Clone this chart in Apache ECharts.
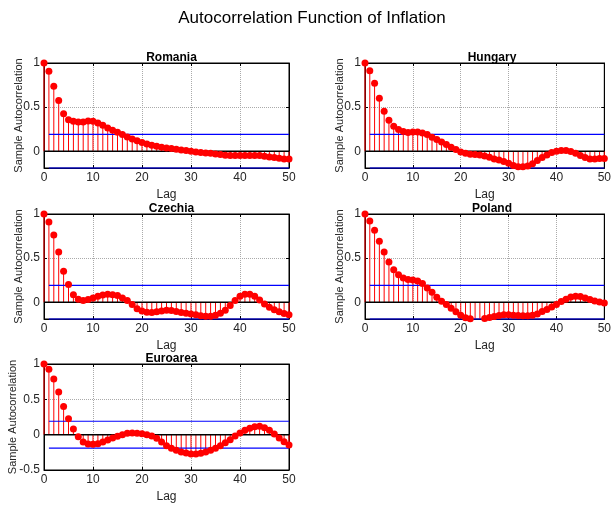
<!DOCTYPE html>
<html>
<head>
<meta charset="utf-8">
<script src="https://cdn.jsdelivr.net/npm/echarts@6/dist/echarts.min.js"></script>
<style>
html, body { margin: 0; padding: 0; background: #fff; }
#chart { width: 614px; height: 506px; }
</style>
</head>
<body>
<div id="chart"></div>
<script>
// lags 0..50
const lags = Array.from({ length: 51 }, (_, i) => i);

const romania = [1, 0.906, 0.736, 0.574, 0.426, 0.358, 0.34, 0.332, 0.332, 0.343, 0.34,
  0.32, 0.294, 0.264, 0.238, 0.215, 0.189, 0.162, 0.14, 0.12, 0.10,
  0.083, 0.068, 0.057, 0.045, 0.038, 0.03, 0.023, 0.015, 0.008, 0,
  -0.008, -0.015, -0.019, -0.023, -0.03, -0.038, -0.045, -0.049, -0.049, -0.049,
  -0.048, -0.048, -0.048, -0.049, -0.057, -0.064, -0.072, -0.08, -0.087, -0.087];

const hungary = [1, 0.913, 0.77, 0.60, 0.453, 0.351, 0.283, 0.245, 0.223, 0.211, 0.219,
  0.219, 0.208, 0.189, 0.158, 0.132, 0.106, 0.075, 0.045, 0.019, -0.008,
  -0.023, -0.034, -0.038, -0.042, -0.053, -0.068, -0.087, -0.10, -0.117, -0.136,
  -0.162, -0.177, -0.177, -0.166, -0.143, -0.106, -0.072, -0.042, -0.015, 0,
  0.008, 0.008, -0.004, -0.023, -0.049, -0.072, -0.087, -0.087, -0.083, -0.083];

const czechia = [1, 0.91, 0.763, 0.568, 0.35, 0.2, 0.086, 0.034, 0.019, 0.03, 0.049,
  0.068, 0.083, 0.09, 0.086, 0.075, 0.049, 0.019, -0.026, -0.075, -0.10,
  -0.113, -0.117, -0.109, -0.098, -0.09, -0.094, -0.105, -0.117, -0.124, -0.132,
  -0.143, -0.154, -0.158, -0.158, -0.147, -0.124, -0.09, -0.038, 0.019, 0.068,
  0.09, 0.09, 0.068, 0.026, -0.019, -0.056, -0.086, -0.109, -0.128, -0.143];

const poland = [1, 0.921, 0.816, 0.692, 0.568, 0.455, 0.368, 0.312, 0.274, 0.259, 0.252,
  0.241, 0.211, 0.162, 0.113, 0.056, 0.011, -0.026, -0.068, -0.109, -0.147,
  -0.177, -0.188, -0.192, -0.192, -0.184, -0.173, -0.162, -0.15, -0.143, -0.143,
  -0.147, -0.15, -0.154, -0.154, -0.147, -0.132, -0.105, -0.083, -0.053, -0.026,
  0.008, 0.034, 0.06, 0.068, 0.064, 0.049, 0.03, 0.015, 0.004, -0.008];

const euroarea = [1, 0.925, 0.788, 0.604, 0.40, 0.226, 0.08, -0.028, -0.104, -0.132, -0.137,
  -0.127, -0.104, -0.075, -0.047, -0.024, 0, 0.019, 0.024, 0.019, 0.014,
  0, -0.019, -0.052, -0.104, -0.156, -0.193, -0.222, -0.245, -0.259, -0.274,
  -0.274, -0.264, -0.245, -0.222, -0.193, -0.156, -0.113, -0.071, -0.019, 0.024,
  0.061, 0.09, 0.113, 0.118, 0.099, 0.061, 0.009, -0.047, -0.099, -0.146];

// confidence bounds
const bound = 0.19;

const panels = [
  { name: 'Romania', values: romania, left: 44, top: 63, width: 245, height: 105, yMin: -0.19 },
  { name: 'Hungary', values: hungary, left: 365, top: 63, width: 244, height: 105, yMin: -0.19 },
  { name: 'Czechia', values: czechia, left: 44, top: 214, width: 245, height: 105, yMin: -0.19 },
  { name: 'Poland', values: poland, left: 365, top: 214, width: 244, height: 105, yMin: -0.19 },
  { name: 'Euroarea', values: euroarea, left: 44, top: 364, width: 245, height: 106, yMin: -0.5 }
];

const font = 'Liberation Sans, Arial, sans-serif';
const txt = '#262626';
const chart = echarts.init(document.getElementById('chart'));

const grids = [], xAxes = [], yAxes = [], series = [];
const titles = [{
  text: 'Autocorrelation Function of Inflation',
  left: 307, top: 5, textAlign: 'center',
  textStyle: { fontFamily: font, fontSize: 17, fontWeight: 'normal', color: '#000' }
}];

const first = lags[0], last = lags[lags.length - 1];
const tick = { inside: true, length: 3, lineStyle: { color: '#000' } };
const grid = { show: true, lineStyle: { type: 'dotted', color: '#aaa' } };

// horizontal reference lines: [y, from lag, to lag]
const zeroLine = [[0, first, last]];
const boundLines = [[bound, lags[1], last], [-bound, lags[1], last]];

function lineRenderer(color, width) {
  return function (params, api) {
    const a = api.coord([api.value(1), api.value(0)]);
    const b = api.coord([api.value(2), api.value(0)]);
    return {
      type: 'line',
      shape: { x1: a[0], y1: a[1], x2: b[0], y2: b[1] },
      style: { stroke: color, lineWidth: width, fill: null }
    };
  };
}

panels.forEach((p, i) => {
  const isEuro = p.yMin === -0.5;
  grids.push({ left: p.left, top: p.top, width: p.width, height: p.height,
    show: true, borderColor: '#000', borderWidth: 1, backgroundColor: '#fff' });
  titles.push({
    text: p.name, left: p.left + p.width / 2, top: p.top - 16, textAlign: 'center',
    textStyle: { fontFamily: font, fontSize: 12, fontWeight: 'bold', color: '#000' }
  });
  const xBase = { gridIndex: i, type: 'value', min: 0, max: 50, interval: 10 };
  const yBase = { gridIndex: i, type: 'value', min: p.yMin, max: 1,
    splitNumber: isEuro ? 3 : 2, minInterval: 0.5, maxInterval: 0.5,
    interval: isEuro ? 0.5 : undefined };
  xAxes.push(Object.assign({}, xBase, {
    position: 'bottom',
    name: 'Lag', nameLocation: 'middle', nameGap: 21, nameMoveOverlap: false,
    nameTextStyle: { fontFamily: font, fontSize: 12, color: txt },
    axisLine: { onZero: false, lineStyle: { color: '#000' } },
    axisTick: tick,
    axisLabel: { fontFamily: font, fontSize: 12, color: txt, margin: 4 },
    splitLine: grid
  }));
  xAxes.push(Object.assign({}, xBase, {
    position: 'top',
    axisLine: { onZero: false, lineStyle: { color: '#000' } },
    axisTick: tick, axisLabel: { show: false }, splitLine: { show: false }
  }));
  yAxes.push(Object.assign({}, yBase, {
    position: 'left',
    name: 'Sample Autocorrelation', nameLocation: 'middle', nameGap: isEuro ? 26 : 20,
    nameMoveOverlap: false,
    nameTextStyle: { fontFamily: font, fontSize: 11, color: txt },
    axisLine: { show: true, onZero: false, lineStyle: { color: '#000' } },
    axisTick: tick,
    axisLabel: { fontFamily: font, fontSize: 12, color: txt, margin: 4,
      showMinLabel: isEuro },
    splitLine: grid
  }));
  yAxes.push(Object.assign({}, yBase, {
    position: 'right',
    axisLine: { show: true, onZero: false, lineStyle: { color: '#000' } },
    axisTick: tick, axisLabel: { show: false }, splitLine: { show: false }
  }));
  const xi = 2 * i, yi = 2 * i;
  const pts = lags.map((l, k) => [l, p.values[k]]);
  // stems
  series.push({
    type: 'bar', xAxisIndex: xi, yAxisIndex: yi, data: pts, barWidth: 1,
    itemStyle: { color: '#ff0000' }, silent: true, z: 2
  });
  // zero line
  series.push({
    type: 'custom', xAxisIndex: xi, yAxisIndex: yi, silent: true, z: 3,
    data: zeroLine, encode: { x: [1, 2], y: 0 },
    renderItem: lineRenderer('#000000', 1.5)
  });
  // confidence bounds
  series.push({
    type: 'custom', xAxisIndex: xi, yAxisIndex: yi, silent: true, z: 3,
    data: boundLines, encode: { x: [1, 2], y: 0 },
    renderItem: lineRenderer('#0000ff', 1.2)
  });
  // markers
  series.push({
    type: 'scatter', xAxisIndex: xi, yAxisIndex: yi, data: pts, symbolSize: 7,
    itemStyle: { color: '#ff0000', opacity: 1 }, z: 4
  });
});

chart.setOption({
  animation: false,
  backgroundColor: '#fff',
  title: titles,
  grid: grids,
  xAxis: xAxes,
  yAxis: yAxes,
  series: series
});
</script>
</body>
</html>
